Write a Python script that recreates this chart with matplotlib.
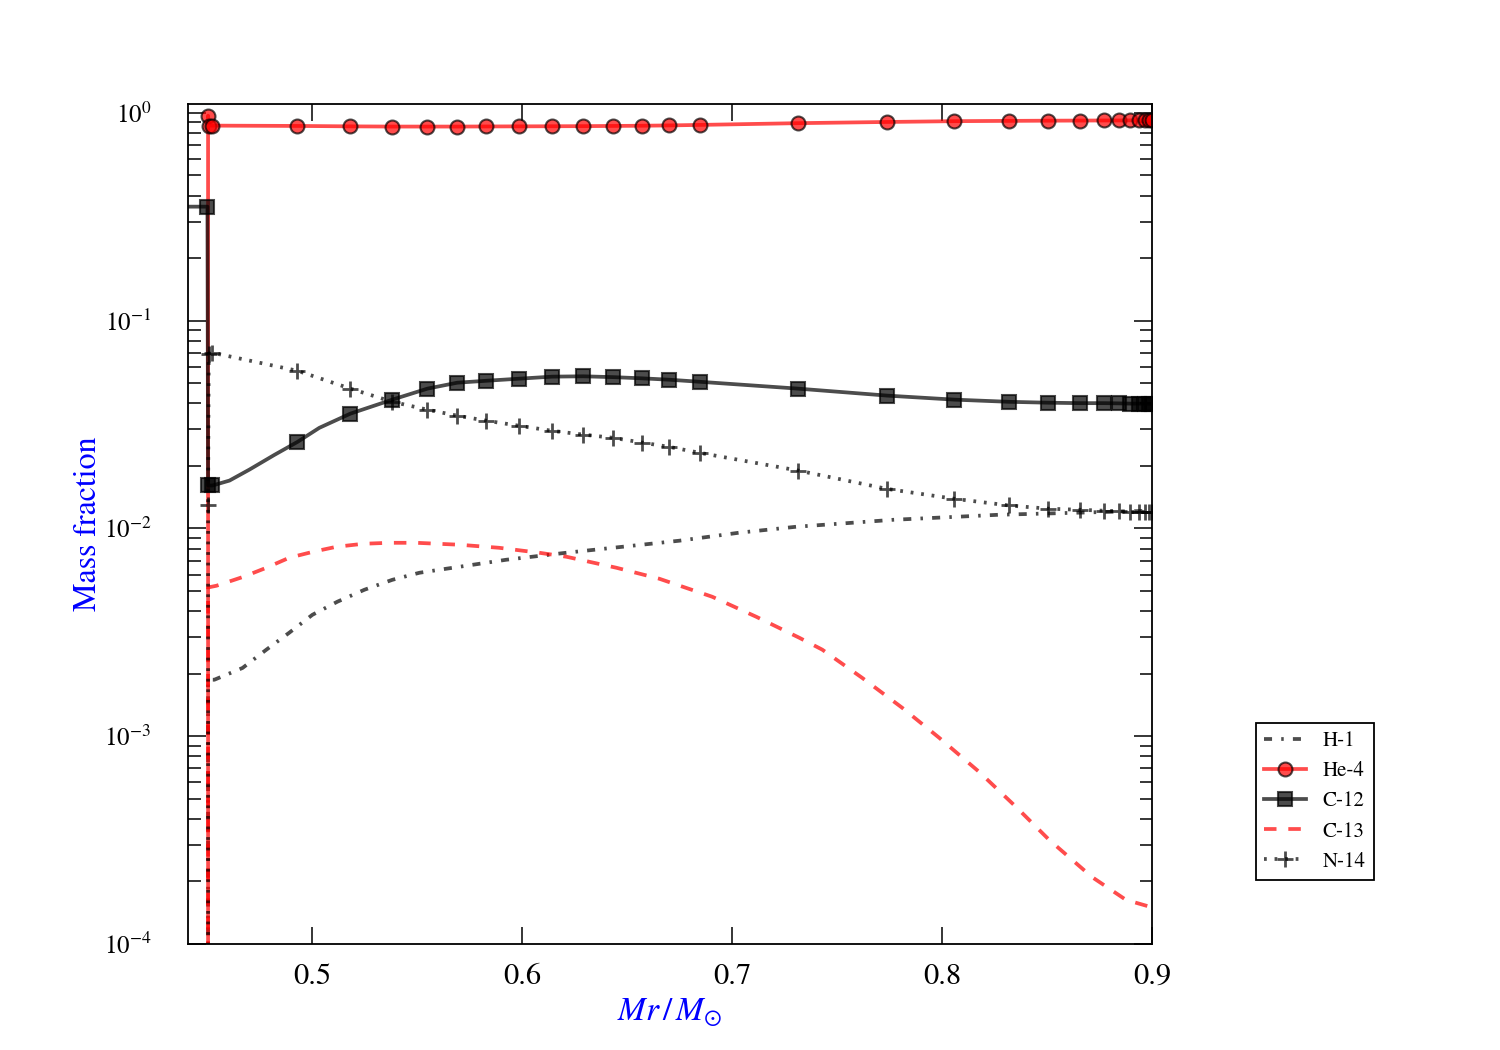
import numpy as np
import matplotlib
matplotlib.use('Agg')
import matplotlib.pyplot as plt
import matplotlib.ticker as ticker

plt.rcParams['font.family'] = 'serif'
plt.rcParams['font.serif'] = ['STIXGeneral', 'Liberation Serif', 'DejaVu Serif']
plt.rcParams['mathtext.fontset'] = 'stix'
plt.rcParams['lines.scale_dashes'] = False

# mass coordinate of the zones that carry markers
mr_zone = [0.4524, 0.4929, 0.5181, 0.5381, 0.5548, 0.5690, 0.5829, 0.5986, 0.6143,
           0.6290, 0.6433, 0.6571, 0.6700, 0.6848, 0.7314, 0.7738, 0.8057, 0.8319,
           0.8505, 0.8657, 0.8771, 0.8843, 0.8895, 0.8938, 0.8967, 0.8986, 0.9000]

# He-4
he4_x = [0.4405, 0.4503, 0.4503, 0.4507] + mr_zone
he4_y = [1e-8, 1e-8, 0.970, 0.869,
         0.869, 0.866, 0.862, 0.860, 0.860, 0.860, 0.861, 0.862, 0.863,
         0.864, 0.866, 0.868, 0.871, 0.876, 0.893, 0.905, 0.913, 0.916,
         0.918, 0.919, 0.920, 0.920, 0.921, 0.921, 0.921, 0.921, 0.921]

# C-12
c12_x = [0.4405, 0.4500, 0.4503, 0.4524, 0.4605, 0.4700, 0.4819, 0.4929, 0.5033,
         0.5181, 0.5381, 0.5548, 0.5690, 0.5829, 0.5986, 0.6143, 0.6290, 0.6433,
         0.6571, 0.6700, 0.6848, 0.7314, 0.7738, 0.8057, 0.8319, 0.8505, 0.8657,
         0.8771, 0.8843, 0.8895, 0.8938, 0.8967, 0.8986, 0.9000]
c12_y = [0.354, 0.354, 0.0161, 0.0161, 0.0170, 0.0192, 0.0226, 0.0261, 0.0305,
         0.0357, 0.0417, 0.0471, 0.0503, 0.0514, 0.0526, 0.0538, 0.0540, 0.0535,
         0.0528, 0.0520, 0.0508, 0.0471, 0.0436, 0.0417, 0.0407, 0.0403, 0.0401,
         0.0401, 0.0400, 0.0399, 0.0399, 0.0399, 0.0398, 0.0398]
c12_marks = [0.4500, 0.4503] + mr_zone

# N-14
n14_x = [0.4405, 0.4503, 0.4503, 0.4506] + mr_zone
n14_y = [1e-8, 1e-8, 0.0129, 0.0695,
         0.0701, 0.0574, 0.0471, 0.0407, 0.0373, 0.0349, 0.0330, 0.0312, 0.0295,
         0.0283, 0.0273, 0.0259, 0.0247, 0.0231, 0.0190, 0.0155, 0.0139, 0.0129,
         0.01245, 0.0123, 0.01217, 0.0121, 0.0120, 0.0120, 0.0120, 0.0120, 0.0120]

# H-1
h1_x = [0.4405, 0.4503, 0.4503, 0.4524, 0.4533, 0.4667, 0.4781, 0.4890, 0.5000,
        0.5119, 0.5248, 0.5381, 0.5510, 0.5924, 0.6210, 0.6476, 0.6748, 0.7033,
        0.7305, 0.7571, 0.7762, 0.8271, 0.9000]
h1_y = [1e-8, 1e-8, 0.00186, 0.00187, 0.00187, 0.00213, 0.00261, 0.00315, 0.00384,
        0.00444, 0.00507, 0.00566, 0.00612, 0.00707, 0.00764, 0.00816, 0.00873, 0.00954,
        0.01019, 0.01065, 0.0110, 0.01164, 0.01217]

# C-13
c13_x = [0.4405, 0.4503, 0.4503, 0.4543, 0.4671, 0.4781, 0.4890, 0.5005, 0.5114,
         0.5243, 0.5367, 0.5495, 0.5700, 0.5890, 0.6080, 0.6210, 0.6448, 0.6652,
         0.6905, 0.7114, 0.7319, 0.7429, 0.7619, 0.7810, 0.7986, 0.8176, 0.8352,
         0.8510, 0.8714, 0.8876, 0.9000]
c13_y = [1e-8, 1e-8, 0.0052, 0.00530, 0.00585, 0.00647, 0.00723, 0.00773, 0.00816,
         0.00844, 0.00853, 0.00853, 0.00835, 0.00807, 0.00764, 0.00731, 0.00647, 0.00573,
         0.00469, 0.00376, 0.00298, 0.00261, 0.00191, 0.00137, 0.000983, 0.000674, 0.000457,
         0.000317, 0.000210, 0.000163, 0.000150]

fig, ax = plt.subplots(figsize=(15, 10.5), dpi=100)
fig.subplots_adjust(left=0.125, right=0.768, bottom=0.101, top=0.901)

lw = 2.7
ax.plot(h1_x, h1_y, color='k', alpha=0.7, lw=lw, dashes=(5.8, 6.6, 1.8, 6.6), label='H-1')
ax.plot(he4_x, he4_y, color='r', alpha=0.7, lw=lw, marker='o', ms=10, mec='k', mew=1.5,
        markevery=list(np.isin(he4_x, he4_x[2:])), label='He-4')
ax.plot(c12_x, c12_y, color='k', alpha=0.7, lw=lw, marker='s', ms=10, mec='k', mew=1.5,
        markevery=list(np.isin(c12_x, c12_marks)), label='C-12')
ax.plot(c13_x, c13_y, color='r', alpha=0.7, lw=lw, dashes=(9, 8.5), label='C-13')
ax.plot(n14_x, n14_y, color='k', alpha=0.7, lw=lw, dashes=(2, 5.6), marker='+', ms=11,
        mew=2.0, markevery=list(np.isin(n14_x, n14_x[2:])), label='N-14')

ax.set_yscale('log')
ax.set_xlim(min(he4_x), 0.9)
ax.set_ylim(1e-4, 1.105)

ax.xaxis.set_major_locator(ticker.MultipleLocator(0.1))
ax.xaxis.set_major_formatter(ticker.FormatStrFormatter('%.1f'))
ax.yaxis.set_major_locator(ticker.LogLocator(base=10, numticks=10))
ax.yaxis.set_minor_locator(ticker.LogLocator(base=10, subs=np.arange(2, 10), numticks=20))
ax.yaxis.set_minor_formatter(ticker.NullFormatter())

ax.tick_params(axis='both', which='both', direction='in', top=True, right=True, color='k')
ax.tick_params(axis='x', which='major', length=12, width=1.1, labelsize=22, pad=14)
ax.tick_params(axis='y', which='major', length=13, width=1.1, labelsize=18, pad=26)
ax.tick_params(axis='y', which='minor', length=9, width=1.1)
for s in ax.spines.values():
    s.set_linewidth(1.3)

ax.set_xlabel(r'$Mr\,/\,M_{\odot}$', color='b', fontsize=24)
ax.set_ylabel('Mass fraction', color='b', fontsize=23)
ax.xaxis.set_label_coords(0.5, -0.063)
ax.yaxis.set_label_coords(-0.088, 0.5)

leg = ax.legend(loc='lower left', bbox_to_anchor=(1.108, 0.076), borderaxespad=0,
                fontsize=15, fancybox=False, edgecolor='k', framealpha=1,
                handlelength=2.0)
leg.get_frame().set_linewidth(1.3)

plt.savefig('out.png', dpi=100)
